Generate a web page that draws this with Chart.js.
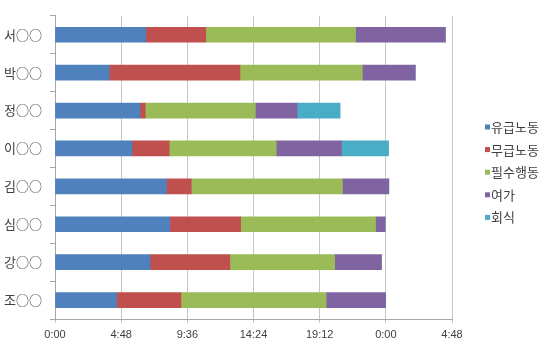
<!DOCTYPE html>
<html>
<head>
<meta charset="utf-8">
<script src="https://cdn.jsdelivr.net/npm/chart.js@4"></script>
<style>
html,body{margin:0;padding:0;background:#fff;}
#wrap{width:550px;height:352px;position:relative;}
</style>
</head>
<body>
<div id="wrap"><canvas id="c" width="550" height="352"></canvas></div>
<script>
// Data (minutes)
const categories = ['서○○','박○○','정○○','이○○','김○○','심○○','강○○','조○○'];
const seriesNames = ['유급노동','무급노동','필수행동','여가','회식'];
const paidWork   = [395, 236, 370, 335, 485, 500, 414, 268];
const unpaidWork = [261, 569,  23, 162, 108, 308, 347, 280];
const essential  = [652, 533, 479, 466, 658, 587, 456, 632];
const leisure    = [391, 230, 182, 284, 202,  42, 204, 259];
const dinner     = [  0,   0, 187, 205,   0,   0,   0,   0];
const tickStep = 288;   // 4:48
const axisMax = 1728;   // 28:48

const colors = ['#4F81BD','#C0504D','#9BBB59','#8064A2','#4BACC6'];
const seriesValues = [paidWork, unpaidWork, essential, leisure, dinner];

function fmt(m){
  const mm = ((m % 1440) + 1440) % 1440;
  const h = Math.floor(mm/60), mi = Math.round(mm%60);
  return h + ':' + String(mi).padStart(2,'0');
}

const legendPlugin = {
  id: 'sideLegend',
  afterDraw(chart){
    const ctx = chart.ctx;
    ctx.save();
    ctx.font = '13px "Noto Sans CJK KR", sans-serif';
    ctx.textBaseline = 'middle';
    ctx.textAlign = 'left';
    chart.data.datasets.forEach((ds, i) => {
      const y = 127 + i * 22.6;
      ctx.fillStyle = ds.backgroundColor;
      ctx.fillRect(485, y - 2.5, 5, 5);
      ctx.fillStyle = '#404040';
      ctx.fillText(ds.label, 491, y);
    });
    ctx.restore();
  }
};

new Chart(document.getElementById('c'), {
  type: 'bar',
  data: {
    labels: categories,
    datasets: seriesNames.map((n, i) => ({
      label: n,
      data: seriesValues[i],
      backgroundColor: colors[i],
      borderWidth: 0,
      barThickness: 15
    }))
  },
  options: {
    indexAxis: 'y',
    responsive: false,
    animation: false,
    layout: { padding: { top: 6, right: 98, left: 0, bottom: 0 } },
    plugins: { legend: { display: false }, tooltip: { enabled: false } },
    scales: {
      x: {
        stacked: true,
        min: 0, max: axisMax,
        afterFit(s){ s.height = 33; },
        ticks: {
          stepSize: tickStep,
          callback: v => fmt(v),
          color: '#404040',
          font: { size: 11, family: 'Arial, "Liberation Sans", sans-serif' },
          padding: 5,
          maxRotation: 0, autoSkip: false
        },
        grid: { color: '#c6c6c6', tickLength: 4, lineWidth: 1 },
        border: { display: true, color: '#a6a6a6' }
      },
      y: {
        stacked: true,
        afterFit(s){ s.width = 55; },
        ticks: {
          color: '#404040',
          font: { size: 13, family: '"Noto Sans CJK KR", sans-serif' },
          padding: 8
        },
        grid: { display: true, drawOnChartArea: false, offset: true, tickLength: 5, color: '#a6a6a6' },
        border: { display: true, color: '#a6a6a6' }
      }
    }
  },
  plugins: [legendPlugin]
});
</script>
</body>
</html>
